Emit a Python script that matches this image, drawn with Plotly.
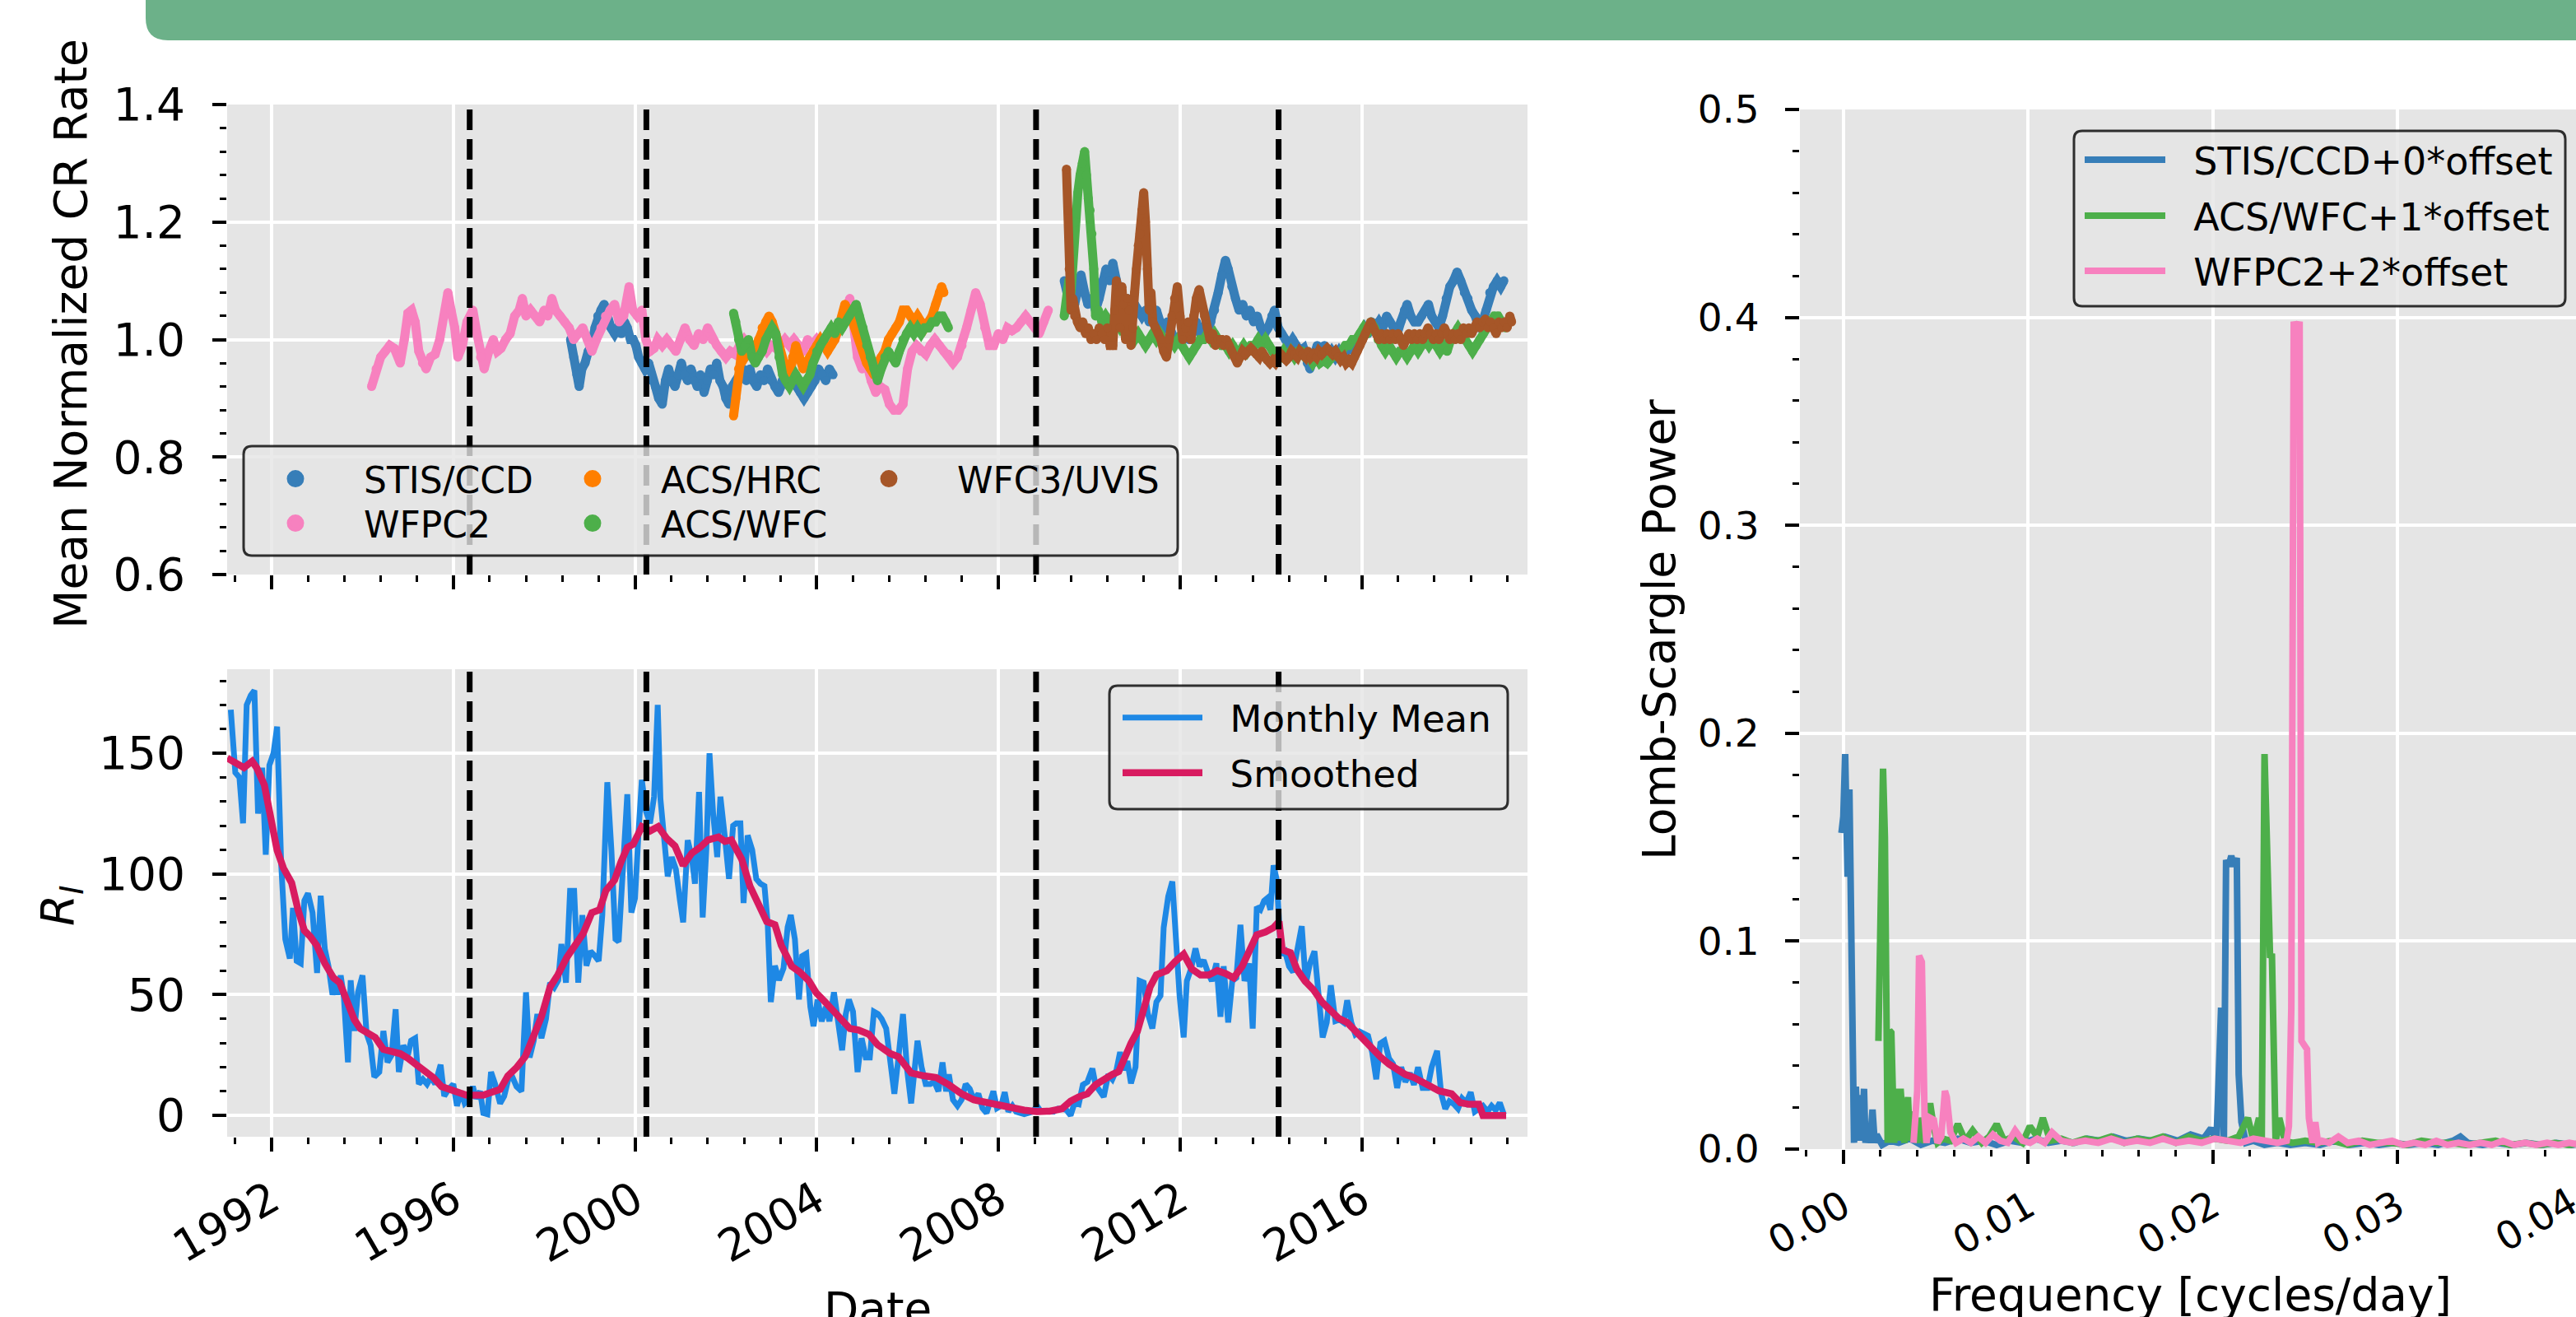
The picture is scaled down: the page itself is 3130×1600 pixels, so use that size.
import plotly.graph_objects as go

W, H = 3130, 1600
def px(x): return x / W
def py(y): return 1 - y / H

# ---------------- Top panel: mean normalized CR rate ----------------
stis_yr_a = [1998.58, 1998.65, 1998.72, 1998.77, 1998.83, 1998.9, 1998.97, 1999.05, 1999.12, 1999.18, 1999.25, 1999.32, 1999.4, 1999.47, 1999.55, 1999.62, 1999.7, 1999.77, 1999.83, 1999.9, 1999.96, 2000.02, 2000.08, 2000.15, 2000.22, 2000.3, 2000.38, 2000.45, 2000.52, 2000.6, 2000.67, 2000.74, 2000.81, 2000.88, 2000.95, 2001.02, 2001.09, 2001.16, 2001.23, 2001.3, 2001.37, 2001.44, 2001.52, 2001.59, 2001.66, 2001.73, 2001.8, 2001.87, 2001.94, 2002.0, 2002.07, 2002.14, 2002.22, 2002.3, 2002.38, 2002.45, 2002.53, 2002.6, 2002.68, 2002.76, 2002.84, 2002.92, 2003.0, 2003.08, 2003.16, 2003.24, 2003.32, 2003.4, 2003.48, 2003.56, 2003.64, 2003.72, 2003.8, 2003.88, 2003.96, 2004.04, 2004.12, 2004.2, 2004.28, 2004.36]
stis_val_a = [1.0, 0.97, 0.94, 0.92, 0.95, 0.96, 0.98, 0.99, 1.02, 1.04, 1.05, 1.06, 1.03, 1.02, 1.01, 1.02, 1.01, 1.03, 1.02, 1.0, 1.0, 0.99, 0.97, 0.96, 0.95, 0.96, 0.93, 0.92, 0.90, 0.89, 0.93, 0.95, 0.93, 0.92, 0.94, 0.96, 0.94, 0.93, 0.95, 0.93, 0.92, 0.94, 0.91, 0.93, 0.95, 0.94, 0.96, 0.93, 0.92, 0.90, 0.89, 0.92, 0.93, 0.94, 0.95, 0.93, 0.95, 0.93, 0.92, 0.94, 0.93, 0.95, 0.93, 0.92, 0.91, 0.93, 0.94, 0.93, 0.94, 0.92, 0.91, 0.90, 0.91, 0.92, 0.93, 0.95, 0.94, 0.93, 0.95, 0.94]
stis_yr_b = [2009.45, 2009.52, 2009.6, 2009.68, 2009.75, 2009.82, 2009.9, 2009.97, 2010.05, 2010.14, 2010.22, 2010.3, 2010.37, 2010.45, 2010.52, 2010.6, 2010.68, 2010.76, 2010.84, 2010.92, 2011.0, 2011.08, 2011.16, 2011.24, 2011.32, 2011.4, 2011.48, 2011.56, 2011.64, 2011.72, 2011.8, 2011.88, 2011.96, 2012.04, 2012.12, 2012.2, 2012.28, 2012.36, 2012.44, 2012.52, 2012.6, 2012.68, 2012.76, 2012.84, 2012.92, 2013.0, 2013.06, 2013.14, 2013.22, 2013.3, 2013.38, 2013.46, 2013.54, 2013.62, 2013.7, 2013.78, 2013.86, 2013.94, 2014.02, 2014.08, 2014.16, 2014.24, 2014.32, 2014.4, 2014.48, 2014.56, 2014.64, 2014.72, 2014.8, 2014.86, 2014.94, 2015.02, 2015.1, 2015.18, 2015.26, 2015.34, 2015.42, 2015.5, 2015.58, 2015.66, 2015.74, 2015.82, 2015.9, 2015.98, 2016.06, 2016.14, 2016.22, 2016.3, 2016.38, 2016.46, 2016.55, 2016.62, 2016.7, 2016.78, 2016.86, 2016.94, 2017.0, 2017.08, 2017.16, 2017.24, 2017.32, 2017.4, 2017.47, 2017.54, 2017.62, 2017.7, 2017.78, 2017.86, 2017.94, 2018.02, 2018.1, 2018.18, 2018.26, 2018.34, 2018.42, 2018.5, 2018.58, 2018.66, 2018.74, 2018.82, 2018.9, 2018.98, 2019.06, 2019.13]
stis_val_b = [1.10, 1.07, 1.05, 1.06, 1.09, 1.11, 1.08, 1.06, 1.07, 1.05, 1.07, 1.10, 1.12, 1.10, 1.13, 1.10, 1.08, 1.05, 1.07, 1.05, 1.06, 1.05, 1.04, 1.05, 1.03, 1.04, 1.05, 1.03, 1.02, 1.03, 1.01, 1.0, 1.0, 1.01, 1.02, 1.0, 1.02, 1.03, 1.01, 1.02, 1.01, 1.03, 1.05, 1.08, 1.11, 1.135, 1.12, 1.09, 1.07, 1.05, 1.06, 1.04, 1.05, 1.03, 1.04, 1.02, 1.01, 1.02, 1.04, 1.05, 1.02, 1.01, 1.0, 0.99, 1.0, 0.99, 0.98, 0.985, 0.96, 0.95, 0.97, 0.99, 0.98, 0.99, 0.97, 0.98, 0.97, 0.98, 0.97, 0.98, 0.99, 0.98, 1.0, 1.01, 1.02, 1.01, 1.03, 1.02, 1.03, 1.02, 1.04, 1.03, 1.02, 1.01, 1.03, 1.05, 1.06, 1.04, 1.03, 1.03, 1.04, 1.05, 1.06, 1.04, 1.03, 1.02, 1.04, 1.07, 1.09, 1.10, 1.115, 1.10, 1.08, 1.07, 1.05, 1.04, 1.02, 1.03, 1.05, 1.08, 1.09, 1.10, 1.09, 1.10]

wfpc2_yr = [1994.2, 1994.3, 1994.4, 1994.5, 1994.6, 1994.7, 1994.83, 1994.92, 1995.0, 1995.08, 1995.16, 1995.24, 1995.32, 1995.4, 1995.5, 1995.6, 1995.7, 1995.8, 1995.88, 1995.95, 1996.03, 1996.1, 1996.2, 1996.3, 1996.43, 1996.52, 1996.6, 1996.68, 1996.78, 1996.88, 1996.97, 1997.05, 1997.15, 1997.25, 1997.35, 1997.45, 1997.52, 1997.6, 1997.7, 1997.8, 1997.9, 1998.0, 1998.08, 1998.17, 1998.25, 1998.35, 1998.45, 1998.55, 1998.65, 1998.75, 1998.85, 1998.95, 1999.05, 1999.15, 1999.25, 1999.35, 1999.45, 1999.55, 1999.65, 1999.75, 1999.87, 1999.95, 2000.05, 2000.15, 2000.24, 2000.33, 2000.42, 2000.5, 2000.6, 2000.7, 2000.8, 2000.9, 2001.0, 2001.1, 2001.2, 2001.3, 2001.4, 2001.5, 2001.6, 2001.7, 2001.8, 2001.9, 2002.0, 2002.1, 2002.2, 2002.3, 2002.4, 2002.5, 2002.6, 2002.7, 2002.8, 2002.9, 2003.0, 2003.1, 2003.2, 2003.3, 2003.4, 2003.5, 2003.6, 2003.7, 2003.8, 2003.9, 2004.0, 2004.1, 2004.2, 2004.3, 2004.4, 2004.5, 2004.6, 2004.73, 2004.82, 2004.9, 2005.0, 2005.1, 2005.2, 2005.3, 2005.4, 2005.5, 2005.6, 2005.7, 2005.8, 2005.9, 2006.0, 2006.1, 2006.2, 2006.3, 2006.4, 2006.5, 2006.6, 2006.7, 2006.8, 2006.9, 2007.0, 2007.1, 2007.2, 2007.3, 2007.4, 2007.5, 2007.6, 2007.7, 2007.8, 2007.9, 2008.0, 2008.1, 2008.2, 2008.3, 2008.4, 2008.5, 2008.6, 2008.7, 2008.8, 2008.9, 2009.0, 2009.1]
wfpc2_val = [0.92, 0.95, 0.97, 0.98, 0.99, 0.985, 0.96, 1.0, 1.045, 1.05, 1.03, 0.98, 0.96, 0.95, 0.97, 0.975, 1.0, 1.04, 1.08, 1.05, 1.02, 0.97, 0.99, 1.03, 1.05, 1.01, 0.97, 0.95, 0.98, 1.0, 0.98, 0.985, 1.0, 1.01, 1.04, 1.05, 1.07, 1.04, 1.05, 1.04, 1.03, 1.05, 1.04, 1.07, 1.05, 1.04, 1.03, 1.02, 1.0, 1.01, 1.02, 1.0, 0.98, 1.0, 1.02, 1.04, 1.05, 1.06, 1.03, 1.04, 1.09, 1.05, 1.04, 1.05, 1.0, 0.98, 0.985, 1.0, 0.99, 1.0, 0.99, 0.98, 1.0, 1.02, 1.0, 0.99, 1.01, 1.0, 1.02, 1.0, 0.99, 0.98, 0.97, 0.98, 0.975, 0.99, 1.0, 0.99, 0.98, 0.97, 0.99, 0.98, 0.99, 0.985, 0.99, 1.0, 0.99, 1.0, 0.99, 0.98, 1.0, 0.99, 1.0, 0.99, 1.0, 1.01, 1.0, 1.02, 1.04, 1.07, 1.02, 0.97, 0.95, 0.96, 0.93, 0.91, 0.92, 0.915, 0.89, 0.88, 0.88, 0.89, 0.95, 0.98, 0.99, 0.98, 0.975, 0.99, 1.0, 0.99, 0.98, 0.975, 0.96, 0.97, 0.99, 1.02, 1.05, 1.08, 1.06, 1.02, 0.99, 0.99, 1.01, 1.0, 1.02, 1.015, 1.02, 1.03, 1.04, 1.03, 1.02, 1.01, 1.03, 1.05]

hrc_yr = [2002.17, 2002.22, 2002.28, 2002.35, 2002.42, 2002.5, 2002.58, 2002.65, 2002.72, 2002.8, 2002.88, 2002.95, 2003.02, 2003.1, 2003.17, 2003.25, 2003.32, 2003.4, 2003.47, 2003.54, 2003.62, 2003.7, 2003.77, 2003.85, 2003.92, 2004.0, 2004.08, 2004.16, 2004.24, 2004.32, 2004.4, 2004.48, 2004.56, 2004.62, 2004.7, 2004.78, 2004.86, 2004.94, 2005.02, 2005.1, 2005.18, 2005.26, 2005.34, 2005.42, 2005.5, 2005.58, 2005.66, 2005.74, 2005.82, 2005.9, 2005.98, 2006.06, 2006.14, 2006.22, 2006.3, 2006.38, 2006.46, 2006.54, 2006.62, 2006.7, 2006.75, 2006.8]
hrc_val = [0.87, 0.90, 0.95, 0.98, 0.97, 0.98, 0.99, 0.985, 1.0, 1.02, 1.03, 1.04, 1.03, 1.01, 0.99, 0.96, 0.95, 0.94, 0.97, 0.99, 0.97, 0.95, 0.96, 0.97, 0.98, 0.99, 1.0, 0.99, 0.98, 0.99, 1.0, 1.02, 1.04, 1.06, 1.05, 1.03, 1.02, 1.0, 0.98, 0.96, 0.95, 0.94, 0.96, 0.97, 0.98, 1.0, 1.01, 1.02, 1.03, 1.05, 1.05, 1.04, 1.03, 1.04, 1.03, 1.02, 1.03, 1.04, 1.06, 1.08, 1.09, 1.08]

wfc_yr_a = [2002.17, 2002.22, 2002.28, 2002.35, 2002.42, 2002.5, 2002.58, 2002.65, 2002.72, 2002.8, 2002.88, 2002.95, 2003.02, 2003.1, 2003.17, 2003.25, 2003.32, 2003.4, 2003.47, 2003.54, 2003.62, 2003.7, 2003.77, 2003.85, 2003.92, 2004.0, 2004.08, 2004.16, 2004.24, 2004.32, 2004.4, 2004.48, 2004.56, 2004.64, 2004.72, 2004.8, 2004.87, 2004.94, 2005.02, 2005.1, 2005.18, 2005.26, 2005.34, 2005.42, 2005.5, 2005.58, 2005.66, 2005.74, 2005.82, 2005.9, 2005.98, 2006.06, 2006.14, 2006.22, 2006.3, 2006.38, 2006.46, 2006.54, 2006.62, 2006.7, 2006.77, 2006.84, 2006.9]
wfc_val_a = [1.045, 1.03, 1.0, 0.98, 0.99, 1.0, 0.97, 0.96, 0.97, 0.98, 1.0, 1.01, 1.02, 1.01, 0.97, 0.94, 0.93, 0.92, 0.93, 0.94, 0.93, 0.92, 0.93, 0.94, 0.96, 0.98, 0.99, 1.0, 1.01, 1.02, 1.01, 1.03, 1.02, 1.03, 1.04, 1.05, 1.06, 1.04, 1.02, 0.99, 0.97, 0.95, 0.93, 0.95, 0.97, 0.98, 0.97, 0.96, 0.98, 1.0, 1.01, 1.02, 1.01, 1.02, 1.01, 1.02, 1.02, 1.03, 1.03, 1.04, 1.04, 1.03, 1.02]
wfc_yr_b = [2009.45, 2009.5, 2009.55, 2009.6, 2009.65, 2009.7, 2009.75, 2009.8, 2009.85, 2009.9, 2009.94, 2009.98, 2010.02, 2010.06, 2010.1, 2010.14, 2010.2, 2010.28, 2010.36, 2010.44, 2010.52, 2010.6, 2010.68, 2010.76, 2010.84, 2010.92, 2011.0, 2011.08, 2011.16, 2011.24, 2011.32, 2011.4, 2011.48, 2011.56, 2011.64, 2011.72, 2011.8, 2011.88, 2011.96, 2012.04, 2012.12, 2012.2, 2012.28, 2012.36, 2012.44, 2012.52, 2012.6, 2012.68, 2012.76, 2012.84, 2012.92, 2013.0, 2013.08, 2013.16, 2013.24, 2013.32, 2013.4, 2013.48, 2013.56, 2013.64, 2013.72, 2013.8, 2013.88, 2013.96, 2014.04, 2014.12, 2014.2, 2014.28, 2014.36, 2014.44, 2014.52, 2014.6, 2014.68, 2014.76, 2014.84, 2014.92, 2015.0, 2015.08, 2015.16, 2015.24, 2015.32, 2015.4, 2015.48, 2015.56, 2015.64, 2015.72, 2015.8, 2015.88, 2015.96, 2016.04, 2016.12, 2016.2, 2016.28, 2016.36, 2016.44, 2016.52, 2016.6, 2016.68, 2016.76, 2016.84, 2016.92, 2017.0, 2017.08, 2017.16, 2017.24, 2017.32, 2017.4, 2017.48, 2017.56, 2017.64, 2017.72, 2017.8, 2017.88, 2017.96, 2018.04, 2018.12, 2018.2, 2018.28, 2018.36, 2018.44, 2018.52, 2018.6, 2018.68, 2018.76, 2018.84, 2018.92, 2019.0, 2019.08, 2019.16]
wfc_val_b = [1.04, 1.06, 1.10, 1.08, 1.15, 1.20, 1.25, 1.28, 1.30, 1.32, 1.28, 1.24, 1.22, 1.18, 1.12, 1.04, 1.05, 1.03, 1.04, 1.03, 1.02, 1.03, 1.02, 1.03, 1.02, 1.01, 1.0, 1.01, 1.0, 0.99, 1.0, 1.01, 1.0, 1.01, 1.0, 0.99, 1.0, 0.99, 1.0, 0.99, 0.98, 0.97, 0.98, 0.99, 1.0, 1.0, 1.01, 1.0, 1.01, 1.0, 0.99, 0.99, 0.98, 0.99, 0.98, 0.98, 0.99, 0.98, 0.99, 0.99, 1.0, 0.99, 1.0, 0.99, 0.98, 0.98, 0.97, 0.98, 0.97, 0.98, 0.97, 0.98, 0.98, 0.97, 0.97, 0.96, 0.97, 0.96, 0.965, 0.96, 0.97, 0.975, 0.97, 0.98, 0.99, 0.99, 1.0, 1.0, 1.01, 1.02, 1.01, 1.03, 1.02, 1.0, 0.99, 0.98, 0.99, 0.98, 0.97, 0.98, 0.98, 0.97, 0.98, 0.99, 0.98, 0.99, 1.0, 0.99, 1.0, 0.99, 0.98, 0.99, 0.98, 1.0, 1.01, 1.02, 1.01, 1.0, 0.99, 0.98, 0.99, 1.0, 1.01, 1.02, 1.03, 1.04, 1.04, 1.03, 1.02]

uvis_yr = [2009.5, 2009.53, 2009.56, 2009.6, 2009.64, 2009.68, 2009.74, 2009.8, 2009.86, 2009.92, 2009.98, 2010.04, 2010.1, 2010.16, 2010.22, 2010.28, 2010.34, 2010.4, 2010.46, 2010.52, 2010.56, 2010.6, 2010.64, 2010.68, 2010.72, 2010.76, 2010.8, 2010.84, 2010.88, 2010.92, 2010.96, 2011.0, 2011.04, 2011.08, 2011.12, 2011.16, 2011.2, 2011.24, 2011.28, 2011.32, 2011.36, 2011.4, 2011.46, 2011.52, 2011.58, 2011.64, 2011.7, 2011.76, 2011.82, 2011.88, 2011.94, 2012.0, 2012.06, 2012.12, 2012.18, 2012.24, 2012.3, 2012.36, 2012.42, 2012.48, 2012.54, 2012.6, 2012.66, 2012.72, 2012.78, 2012.84, 2012.9, 2012.96, 2013.02, 2013.08, 2013.14, 2013.2, 2013.26, 2013.32, 2013.38, 2013.44, 2013.5, 2013.56, 2013.62, 2013.68, 2013.74, 2013.8, 2013.86, 2013.92, 2013.98, 2014.04, 2014.1, 2014.16, 2014.22, 2014.28, 2014.34, 2014.4, 2014.46, 2014.52, 2014.58, 2014.64, 2014.7, 2014.76, 2014.82, 2014.88, 2014.94, 2015.0, 2015.06, 2015.12, 2015.18, 2015.24, 2015.3, 2015.36, 2015.42, 2015.48, 2015.54, 2015.6, 2015.66, 2015.72, 2015.78, 2015.84, 2015.9, 2015.96, 2016.02, 2016.08, 2016.14, 2016.2, 2016.26, 2016.32, 2016.38, 2016.44, 2016.5, 2016.56, 2016.62, 2016.68, 2016.74, 2016.8, 2016.86, 2016.92, 2016.98, 2017.04, 2017.1, 2017.16, 2017.22, 2017.28, 2017.34, 2017.4, 2017.46, 2017.52, 2017.58, 2017.64, 2017.7, 2017.76, 2017.82, 2017.88, 2017.94, 2018.0, 2018.06, 2018.12, 2018.18, 2018.24, 2018.3, 2018.36, 2018.42, 2018.48, 2018.54, 2018.6, 2018.66, 2018.72, 2018.78, 2018.84, 2018.9, 2018.96, 2019.02, 2019.08, 2019.14, 2019.2, 2019.26, 2019.3]
uvis_val = [1.29, 1.22, 1.12, 1.05, 1.07, 1.04, 1.03, 1.02, 1.03, 1.01, 1.02, 1.0, 1.01, 1.0, 1.02, 1.01, 1.0, 1.02, 0.99, 0.99, 1.05, 1.10, 1.08, 1.02, 1.09, 1.06, 1.0, 1.07, 1.05, 0.99, 1.02, 1.08, 1.12, 1.16, 1.18, 1.22, 1.25, 1.20, 1.12, 1.05, 1.08, 1.03, 1.02, 1.01, 1.0, 0.98, 0.97, 1.0, 1.04, 1.07, 1.09, 1.04, 1.0, 1.02, 1.03, 1.0, 1.04, 1.07, 1.085, 1.06, 1.04, 1.02, 1.0, 1.01, 0.99, 1.0, 1.0, 0.99, 1.0, 0.99, 0.98, 0.97, 0.96, 0.97, 0.98, 0.975, 0.98, 0.985, 0.98, 0.975, 0.97, 0.98, 0.97, 0.965, 0.96, 0.965, 0.96, 0.97, 0.975, 0.97, 0.965, 0.97, 0.98, 0.975, 0.97, 0.98, 0.975, 0.97, 0.98, 0.97, 0.975, 0.97, 0.98, 0.975, 0.98, 0.985, 0.98, 0.975, 0.98, 0.97, 0.965, 0.97, 0.96, 0.965, 0.96, 0.97, 0.98, 0.99, 1.0, 1.01, 1.02, 1.03, 1.02, 1.01, 1.0, 1.01, 1.0, 1.01, 1.0, 1.01, 1.0, 1.01, 1.0, 0.99, 1.0, 1.01, 1.0, 1.01, 1.0, 1.01, 1.0, 1.01, 1.02, 1.01, 1.0, 1.01, 1.0, 1.01, 1.02, 1.01, 1.0, 1.01, 1.0, 1.01, 1.0, 1.02, 1.01, 1.02, 1.01, 1.02, 1.03, 1.02, 1.03, 1.035, 1.02, 1.03, 1.02, 1.01, 1.03, 1.02, 1.03, 1.02, 1.04, 1.03]

# ---------------- Bottom panel: sunspot number ----------------
ssn_yr = [1991.1, 1991.2, 1991.29, 1991.37, 1991.45, 1991.54, 1991.62, 1991.7, 1991.79, 1991.87, 1991.95, 1992.04, 1992.12, 1992.21, 1992.3, 1992.4, 1992.47, 1992.55, 1992.64, 1992.72, 1992.8, 1992.9, 1993.0, 1993.08, 1993.17, 1993.25, 1993.34, 1993.4, 1993.45, 1993.52, 1993.59, 1993.68, 1993.74, 1993.82, 1993.9, 1994.0, 1994.09, 1994.18, 1994.26, 1994.37, 1994.46, 1994.55, 1994.64, 1994.73, 1994.8, 1994.9, 1995.0, 1995.07, 1995.16, 1995.24, 1995.33, 1995.42, 1995.51, 1995.6, 1995.72, 1995.8, 1995.9, 1996.0, 1996.08, 1996.17, 1996.25, 1996.34, 1996.43, 1996.5, 1996.59, 1996.66, 1996.75, 1996.83, 1996.92, 1997.03, 1997.12, 1997.21, 1997.3, 1997.39, 1997.5, 1997.6, 1997.68, 1997.77, 1997.85, 1997.94, 1998.04, 1998.13, 1998.22, 1998.31, 1998.38, 1998.48, 1998.57, 1998.66, 1998.75, 1998.84, 1998.93, 1999.02, 1999.12, 1999.2, 1999.28, 1999.39, 1999.48, 1999.57, 1999.64, 1999.74, 1999.83, 1999.92, 2000.0, 2000.08, 2000.15, 2000.24, 2000.33, 2000.42, 2000.5, 2000.56, 2000.66, 2000.72, 2000.81, 2000.9, 2000.99, 2001.06, 2001.16, 2001.25, 2001.32, 2001.41, 2001.49, 2001.57, 2001.64, 2001.72, 2001.81, 2001.88, 2001.98, 2002.07, 2002.16, 2002.23, 2002.32, 2002.39, 2002.48, 2002.58, 2002.67, 2002.76, 2002.85, 2002.92, 2002.99, 2003.08, 2003.17, 2003.27, 2003.36, 2003.43, 2003.52, 2003.61, 2003.68, 2003.77, 2003.86, 2003.93, 2004.02, 2004.11, 2004.2, 2004.28, 2004.38, 2004.47, 2004.56, 2004.64, 2004.71, 2004.8, 2004.9, 2004.99, 2005.08, 2005.17, 2005.26, 2005.35, 2005.43, 2005.53, 2005.62, 2005.71, 2005.8, 2005.9, 2005.99, 2006.08, 2006.15, 2006.22, 2006.31, 2006.4, 2006.5, 2006.59, 2006.68, 2006.77, 2006.85, 2006.91, 2007.0, 2007.1, 2007.19, 2007.28, 2007.37, 2007.46, 2007.56, 2007.65, 2007.74, 2007.82, 2007.89, 2007.97, 2008.06, 2008.14, 2008.22, 2008.31, 2008.39, 2008.48, 2008.57, 2008.66, 2008.76, 2008.85, 2008.94, 2009.03, 2009.13, 2009.22, 2009.31, 2009.4, 2009.5, 2009.59, 2009.68, 2009.77, 2009.86, 2009.96, 2010.07, 2010.14, 2010.23, 2010.32, 2010.42, 2010.51, 2010.6, 2010.68, 2010.77, 2010.84, 2010.92, 2011.02, 2011.11, 2011.2, 2011.29, 2011.39, 2011.48, 2011.57, 2011.64, 2011.74, 2011.83, 2011.91, 2011.99, 2012.08, 2012.15, 2012.24, 2012.34, 2012.43, 2012.52, 2012.61, 2012.7, 2012.8, 2012.89, 2012.96, 2013.06, 2013.15, 2013.24, 2013.33, 2013.42, 2013.52, 2013.6, 2013.69, 2013.77, 2013.85, 2013.92, 2013.99, 2014.06, 2014.13, 2014.22, 2014.31, 2014.4, 2014.49, 2014.59, 2014.68, 2014.77, 2014.86, 2014.96, 2015.05, 2015.14, 2015.23, 2015.32, 2015.42, 2015.51, 2015.6, 2015.68, 2015.77, 2015.86, 2015.95, 2016.04, 2016.14, 2016.23, 2016.32, 2016.41, 2016.5, 2016.6, 2016.69, 2016.78, 2016.87, 2016.96, 2017.06, 2017.15, 2017.24, 2017.34, 2017.45, 2017.54, 2017.66, 2017.75, 2017.84, 2017.93, 2018.03, 2018.12, 2018.21, 2018.3, 2018.4, 2018.49, 2018.58, 2018.67, 2018.77, 2018.86, 2018.95, 2019.04, 2019.13]
ssn_monthly = [168, 142, 140, 121, 170, 174, 176, 125, 144, 108, 145, 150, 161, 104, 73, 65, 86, 64, 63, 89, 92, 84, 59, 91, 69, 62, 50, 56, 50, 58, 49, 22, 56, 35, 51, 58, 34, 29, 16, 18, 35, 22, 25, 44, 18, 29, 25, 31, 32, 13, 15, 13, 16, 13, 21, 8, 11, 13, 4, 10, 5, 6.5, 12, 7, 10, 1, 0.5, 18, 13, 5, 8, 15, 16, 12, 10, 51, 24, 31, 42, 32, 40, 55, 53, 56, 71, 55, 93, 93, 55, 83, 62, 68, 66, 64, 83, 138, 110, 73, 72, 110, 133, 84, 90, 118, 139, 126, 121, 132, 170, 131, 110, 99, 107, 102, 89, 80, 114, 107, 96, 134, 82, 110, 150, 125, 107, 132, 115, 98, 120, 121, 121, 88, 116, 110, 98, 96, 95, 80, 47, 62, 56, 61, 78, 83, 73, 48, 66, 67, 45, 37, 48, 39, 45, 39, 51, 37, 27, 42, 48, 43, 18, 32, 24, 24, 43, 42, 40, 36, 20, 9, 24, 42, 19, 5, 18, 31, 20, 13, 13, 14, 10, 22, 10, 17, 6.5, 4, 6.5, 13, 11, 6.5, 9, 3, 1, 6.5, 10, 3, 4, 9.6, 1.6, 4, 1.6, 1, 0.5, 1, 1.6, 4, 1.6, 1.6, 1.6, 1.6, 2.8, 2.8, 2.2, 0, 5.3, 4.7, 12.7, 13.9, 19.4, 12.7, 10.2, 7.7, 17, 15, 18.8, 26.2, 18.8, 22.5, 13.3, 20, 55.7, 55, 42.2, 36, 47, 49.6, 77.8, 90.7, 96.9, 68, 49.6, 32.3, 55.7, 60.6, 69.2, 61.8, 64.3, 59.4, 55.7, 63, 40.9, 61.8, 38.5, 55.7, 57, 79, 55.7, 63, 36, 86.4, 85.2, 88.9, 90, 85.2, 103.6, 97.5, 66.8, 68, 61.8, 59.4, 69.2, 78.4, 54.5, 63, 68, 48.3, 32.3, 38.5, 53.9, 39.1, 39.7, 38.5, 47.7, 38.5, 33.6, 34.8, 33.6, 33, 26.2, 15, 29.9, 31, 23.7, 21.3, 11.4, 20, 13.9, 17.6, 12.7, 20, 11.4, 11.4, 20, 26.8, 9, 2.8, 5.9, 4.7, 2.8, 7.1, 5.3, 9.6, 1.6, 2.8, 4, 1.6, 4, 2.2, 5.3, 0.4]

smooth_yr = [1991.02, 1991.16, 1991.39, 1991.57, 1991.67, 1991.84, 1991.98, 1992.12, 1992.26, 1992.44, 1992.58, 1992.72, 1992.85, 1992.99, 1993.17, 1993.36, 1993.5, 1993.63, 1993.82, 1993.95, 1994.14, 1994.28, 1994.46, 1994.64, 1994.83, 1995.0, 1995.2, 1995.38, 1995.56, 1995.74, 1995.93, 1996.11, 1996.29, 1996.48, 1996.66, 1996.84, 1997.03, 1997.2, 1997.4, 1997.58, 1997.76, 1997.94, 1998.13, 1998.3, 1998.5, 1998.68, 1998.86, 1999.05, 1999.22, 1999.36, 1999.55, 1999.69, 1999.83, 1999.96, 2000.15, 2000.33, 2000.51, 2000.7, 2000.88, 2001.06, 2001.25, 2001.43, 2001.61, 2001.84, 2001.98, 2002.12, 2002.35, 2002.53, 2002.72, 2002.9, 2003.08, 2003.22, 2003.45, 2003.63, 2003.83, 2003.99, 2004.18, 2004.36, 2004.55, 2004.73, 2004.92, 2005.15, 2005.34, 2005.62, 2005.8, 2006.08, 2006.36, 2006.63, 2006.91, 2007.19, 2007.46, 2007.74, 2008.02, 2008.3, 2008.57, 2008.85, 2009.13, 2009.4, 2009.59, 2009.77, 2009.96, 2010.14, 2010.32, 2010.51, 2010.65, 2010.79, 2010.92, 2011.06, 2011.2, 2011.34, 2011.48, 2011.71, 2011.89, 2012.08, 2012.26, 2012.45, 2012.63, 2012.82, 2013.0, 2013.18, 2013.37, 2013.55, 2013.69, 2013.88, 2014.06, 2014.18, 2014.25, 2014.43, 2014.57, 2014.75, 2014.94, 2015.12, 2015.3, 2015.49, 2015.68, 2015.86, 2016.04, 2016.23, 2016.41, 2016.6, 2016.78, 2016.96, 2017.15, 2017.34, 2017.52, 2017.7, 2017.98, 2018.17, 2018.35, 2018.58, 2018.67, 2018.9, 2019.18]
smooth_val = [148, 146.7, 144, 146.7, 144, 136.8, 124.6, 109.8, 102.4, 96.3, 85.2, 76.6, 74.1, 70.5, 63, 57, 55, 48.3, 39.7, 36, 34.2, 32.3, 27.4, 26.2, 25.6, 23.7, 20.7, 17.6, 15.7, 12, 10.8, 10.2, 8.4, 8.4, 8.4, 9.6, 10.8, 16.4, 20, 24.3, 32.3, 40.9, 53.2, 58.2, 65.5, 70.5, 75.4, 84, 85.2, 93.2, 97.5, 104.9, 111, 112.3, 119.6, 117.8, 119.6, 114.7, 111.6, 103.6, 108.6, 111, 114.1, 115.3, 113.5, 114.1, 106.1, 95, 87.7, 80.3, 79, 70.5, 61.8, 59.4, 55.7, 50.8, 47.1, 43.4, 39.7, 36, 35.4, 33.6, 29.3, 25.6, 24.3, 17.6, 16.4, 15.7, 12.7, 9, 6.5, 5.3, 4, 3.4, 2.2, 1.6, 1.8, 2.8, 5.9, 7.7, 9, 12.7, 15, 17, 18.2, 25, 29.9, 34.8, 43.4, 53.2, 58.2, 60, 63.7, 66.8, 60.6, 58.2, 58.2, 60, 58.8, 57, 61.8, 69.2, 74.8, 76, 77.8, 80.3, 68.6, 67.4, 60.6, 55.7, 52, 47.1, 43.4, 40.3, 38.5, 34.8, 31.1, 28, 24.3, 21.3, 18.8, 17, 15.7, 13.9, 12, 10.2, 9, 5.3, 4.7, 4.7, 0, 0, 0]

cycle_dates = [1996.36, 2000.25, 2008.83, 2014.17]

# ---------------- Right panel: Lomb-Scargle periodograms ----------------
ls_stis_f = [-0.0001, 0.0, 0.0001, 0.00023, 0.00033, 0.00045, 0.00058, 0.00068, 0.0008, 0.0009, 0.00102, 0.00112, 0.0012, 0.00132, 0.00145, 0.00158, 0.0017, 0.0018, 0.0021, 0.0025, 0.003, 0.0036, 0.0042, 0.0048, 0.0055, 0.0062, 0.0069, 0.0076, 0.0083, 0.009, 0.0097, 0.0104, 0.0111, 0.0118, 0.0125, 0.0132, 0.0139, 0.0146, 0.0153, 0.016, 0.0167, 0.0174, 0.0181, 0.0188, 0.0195, 0.0199, 0.0202, 0.02045, 0.0206, 0.02072, 0.02085, 0.021, 0.02115, 0.0213, 0.0214, 0.02155, 0.0218, 0.0222, 0.0228, 0.0235, 0.0242, 0.025, 0.0258, 0.0266, 0.0274, 0.0282, 0.029, 0.0298, 0.0306, 0.0314, 0.0322, 0.033, 0.0334, 0.0338, 0.0346, 0.0354, 0.0362, 0.037, 0.0378, 0.0386, 0.0394, 0.0402]
ls_stis_p = [0.152, 0.160, 0.190, 0.131, 0.173, 0.092, 0.003, 0.030, 0.004, 0.026, 0.004, 0.029, 0.003, 0.011, 0.003, 0.019, 0.003, 0.007, 0.002, 0.004, 0.003, 0.005, 0.002, 0.004, 0.003, 0.005, 0.003, 0.004, 0.002, 0.004, 0.003, 0.005, 0.003, 0.004, 0.003, 0.005, 0.004, 0.006, 0.004, 0.005, 0.004, 0.006, 0.004, 0.007, 0.005, 0.010, 0.004, 0.068, 0.004, 0.139, 0.136, 0.141, 0.136, 0.140, 0.036, 0.013, 0.003, 0.004, 0.002, 0.003, 0.002, 0.003, 0.002, 0.004, 0.002, 0.003, 0.002, 0.003, 0.002, 0.003, 0.002, 0.004, 0.006, 0.003, 0.002, 0.003, 0.002, 0.003, 0.002, 0.003, 0.002, 0.003]
ls_wfc_f = [0.0019, 0.00205, 0.00215, 0.00225, 0.0024, 0.0025, 0.0026, 0.00275, 0.0029, 0.003, 0.0031, 0.0033, 0.0035, 0.0036, 0.0038, 0.004, 0.0041, 0.0044, 0.0047, 0.0049, 0.0051, 0.0054, 0.0058, 0.0062, 0.0066, 0.007, 0.0075, 0.0079, 0.0083, 0.0087, 0.0092, 0.0097, 0.0101, 0.0105, 0.0108, 0.0112, 0.0118, 0.0124, 0.0131, 0.0138, 0.0145, 0.0152, 0.0159, 0.0166, 0.0173, 0.018, 0.0187, 0.0194, 0.0201, 0.0208, 0.0214, 0.0219, 0.0222, 0.0225, 0.02265, 0.0228, 0.02295, 0.0231, 0.0232, 0.0234, 0.0236, 0.0239, 0.0243, 0.025, 0.0257, 0.0265, 0.0273, 0.0281, 0.0289, 0.0297, 0.0305, 0.0313, 0.0321, 0.0329, 0.0337, 0.0345, 0.0353, 0.0361, 0.0369, 0.0377, 0.0385, 0.0393, 0.0401]
ls_wfc_p = [0.052, 0.120, 0.183, 0.150, 0.003, 0.057, 0.056, 0.003, 0.029, 0.004, 0.029, 0.003, 0.025, 0.004, 0.018, 0.003, 0.015, 0.003, 0.022, 0.010, 0.003, 0.005, 0.004, 0.012, 0.004, 0.009, 0.003, 0.006, 0.012, 0.004, 0.006, 0.003, 0.011, 0.006, 0.015, 0.004, 0.005, 0.003, 0.005, 0.004, 0.006, 0.003, 0.005, 0.004, 0.006, 0.003, 0.006, 0.004, 0.005, 0.004, 0.006, 0.015, 0.004, 0.015, 0.005, 0.190, 0.150, 0.092, 0.094, 0.003, 0.015, 0.004, 0.003, 0.004, 0.003, 0.004, 0.002, 0.004, 0.003, 0.003, 0.002, 0.004, 0.003, 0.003, 0.002, 0.003, 0.004, 0.002, 0.003, 0.002, 0.003, 0.002, 0.003]
ls_wfpc2_f = [0.0038, 0.004, 0.0041, 0.00425, 0.0044, 0.0045, 0.0047, 0.0049, 0.0051, 0.0053, 0.0055, 0.0056, 0.0058, 0.0061, 0.0065, 0.0069, 0.0073, 0.0077, 0.0081, 0.0085, 0.0089, 0.0093, 0.0097, 0.0101, 0.0105, 0.0109, 0.0113, 0.0118, 0.0124, 0.0131, 0.0138, 0.0145, 0.0152, 0.0159, 0.0166, 0.0173, 0.018, 0.0187, 0.0194, 0.0201, 0.0208, 0.0215, 0.0222, 0.0229, 0.0235, 0.024, 0.02412, 0.02425, 0.02438, 0.02455, 0.0247, 0.0248, 0.025, 0.0251, 0.0252, 0.0254, 0.02555, 0.0257, 0.0259, 0.0263, 0.0268, 0.0273, 0.0279, 0.0285, 0.0291, 0.0297, 0.0303, 0.0309, 0.0315, 0.0321, 0.0327, 0.0333, 0.0339, 0.0345, 0.0351, 0.0357, 0.0363, 0.0369, 0.0375, 0.0381, 0.0387, 0.0393, 0.0399]
ls_wfpc2_p = [0.003, 0.028, 0.093, 0.090, 0.015, 0.003, 0.015, 0.014, 0.003, 0.006, 0.028, 0.025, 0.008, 0.003, 0.005, 0.003, 0.006, 0.003, 0.007, 0.004, 0.003, 0.009, 0.004, 0.003, 0.005, 0.003, 0.008, 0.004, 0.003, 0.004, 0.003, 0.005, 0.003, 0.004, 0.003, 0.005, 0.003, 0.004, 0.003, 0.005, 0.004, 0.003, 0.005, 0.004, 0.003, 0.004, 0.011, 0.068, 0.398, 0.392, 0.398, 0.052, 0.050, 0.048, 0.015, 0.003, 0.013, 0.003, 0.004, 0.003, 0.006, 0.003, 0.004, 0.002, 0.003, 0.004, 0.002, 0.003, 0.002, 0.004, 0.002, 0.003, 0.002, 0.003, 0.002, 0.004, 0.002, 0.003, 0.002, 0.003, 0.002, 0.003, 0.002]

C_BLUE, C_PINK, C_ORANGE, C_GREEN, C_BROWN = '#377eb8', '#f781bf', '#ff7f00', '#4daf4a', '#a65628'
C_MONTH, C_SMOOTH = '#1e88e5', '#d81b60'
FONT = 'DejaVu Sans'
NB = '\u00a0\u00a0'   # small lead-in gap between legend handle and label

fig = go.Figure()

def cr_trace(x, y, color):
    fig.add_trace(go.Scatter(x=x, y=y, mode='lines+markers', xaxis='x', yaxis='y',
                             line=dict(color=color, width=11), marker=dict(color=color, size=11),
                             showlegend=False, hoverinfo='skip'))

cr_trace(stis_yr_a + [None] + stis_yr_b, stis_val_a + [None] + stis_val_b, C_BLUE)
cr_trace(wfpc2_yr, wfpc2_val, C_PINK)
cr_trace(hrc_yr, hrc_val, C_ORANGE)
cr_trace(wfc_yr_a + [None] + wfc_yr_b, wfc_val_a + [None] + wfc_val_b, C_GREEN)
cr_trace(uvis_yr, uvis_val, C_BROWN)

# legend entries for the top panel (3 columns, matplotlib-like)
top_entries = [('STIS/CCD', C_BLUE, 'legend'), ('WFPC2', C_PINK, 'legend2'),
               ('ACS/HRC', C_ORANGE, 'legend3'), ('ACS/WFC', C_GREEN, 'legend4'),
               ('WFC3/UVIS', C_BROWN, 'legend5')]
for name, c, lg in top_entries:
    fig.add_trace(go.Scatter(x=[None], y=[None], mode='markers', xaxis='x', yaxis='y', name=name,
                             marker=dict(color=c, size=16, line=dict(color=c, width=5)), legend=lg))

fig.add_trace(go.Scatter(x=ssn_yr, y=ssn_monthly, mode='lines', xaxis='x2', yaxis='y2', name=NB + 'Monthly Mean',
                         line=dict(color=C_MONTH, width=7), legend='legend6', hoverinfo='skip'))
fig.add_trace(go.Scatter(x=smooth_yr, y=smooth_val, mode='lines', xaxis='x2', yaxis='y2', name=NB + 'Smoothed',
                         line=dict(color=C_SMOOTH, width=8.5), legend='legend7', hoverinfo='skip'))

fig.add_trace(go.Scatter(x=ls_stis_f, y=ls_stis_p, mode='lines', xaxis='x3', yaxis='y3', name=NB + 'STIS/CCD+0*offset',
                         line=dict(color=C_BLUE, width=8), legend='legend8', hoverinfo='skip'))
fig.add_trace(go.Scatter(x=ls_wfc_f, y=ls_wfc_p, mode='lines', xaxis='x3', yaxis='y3', name=NB + 'ACS/WFC+1*offset',
                         line=dict(color=C_GREEN, width=8), legend='legend9', hoverinfo='skip'))
fig.add_trace(go.Scatter(x=ls_wfpc2_f, y=ls_wfpc2_p, mode='lines', xaxis='x3', yaxis='y3', name=NB + 'WFPC2+2*offset',
                         line=dict(color=C_PINK, width=8), legend='legend10', hoverinfo='skip'))

def axis_common(fs):
    return dict(ticks='outside', ticklen=17, tickwidth=4, tickcolor='black', showline=False, zeroline=False,
                showgrid=True, gridcolor='white', gridwidth=4, automargin=False,
                tickfont=dict(family=FONT, size=fs, color='black'))

def minor(dt, t0):
    return dict(ticks='outside', ticklen=8, tickwidth=3, tickcolor='black', dtick=dt, tick0=t0, showgrid=False)

LX = [px(276), px(1856)]
layout = dict(
    width=W, height=H, margin=dict(l=0, r=0, t=0, b=0, pad=0, autoexpand=False), autosize=False,
    paper_bgcolor='white', plot_bgcolor='#e5e5e5', hovermode=False,
    xaxis=dict(domain=LX, anchor='y', range=[1991.02, 2019.65], tickmode='linear', tick0=1992, dtick=4,
               showticklabels=False, minor=minor(0.8, 1992), **axis_common(54)),
    yaxis=dict(domain=[py(698), py(127)], anchor='x', range=[0.6, 1.4], tickmode='linear', tick0=0.6, dtick=0.2,
               tickformat='.1f', ticklabelstandoff=22, minor=minor(0.04, 0.6), **axis_common(55)),
    xaxis2=dict(domain=LX, anchor='y2', range=[1991.02, 2019.65], tickmode='linear', tick0=1992, dtick=4,
                tickformat='d', tickangle=-30, ticklabelstandoff=6, minor=minor(0.8, 1992), **axis_common(54)),
    yaxis2=dict(domain=[py(1381), py(813)], anchor='x2', range=[-8.8, 184.8], tickmode='linear', tick0=0, dtick=50,
                ticklabelstandoff=22, minor=minor(10, 0), **axis_common(55)),
    xaxis3=dict(domain=[px(2187), 1.0], anchor='y3', range=[-0.00235, 0.03966], tickmode='linear', tick0=0, dtick=0.01,
                tickformat='.2f', tickangle=-30, ticklabelstandoff=6, minor=minor(0.002, 0), **axis_common(47)),
    yaxis3=dict(domain=[py(1396), py(133)], anchor='x3', range=[0, 0.5], tickmode='linear', tick0=0, dtick=0.1,
                tickformat='.1f', ticklabelstandoff=22, minor=minor(0.02, 0), **axis_common(47)),
)

# legends
def leg(xpix, ypix, fs, itemw):
    return dict(x=px(xpix), y=py(ypix), xanchor='left', yanchor='middle', bgcolor='rgba(0,0,0,0)', borderwidth=0,
                font=dict(family=FONT, size=fs, color='black'), itemwidth=itemw, orientation='v',
                itemclick=False, itemdoubleclick=False)

layout['legend'] = leg(359 - 83, 582, 44, 156)
layout['legend2'] = leg(359 - 83, 636, 44, 156)
layout['legend3'] = leg(720 - 83, 582, 44, 156)
layout['legend4'] = leg(720 - 83, 636, 44, 156)
layout['legend5'] = leg(1080 - 83, 582, 44, 156)
layout['legend6'] = leg(1359, 872, 45, 97)
layout['legend7'] = leg(1359, 939, 45, 97)
layout['legend8'] = leg(2528, 194, 46, 98)
layout['legend9'] = leg(2528, 262, 46, 98)
layout['legend10'] = leg(2528, 329, 46, 98)

fig.update_layout(**layout)

def rrect(x0, y0, x1, y1, r):
    X = lambda v: v / W
    Y = lambda v: 1 - v / H
    return (f"M{X(x0 + r)},{Y(y0)} L{X(x1 - r)},{Y(y0)} Q{X(x1)},{Y(y0)} {X(x1)},{Y(y0 + r)} "
            f"L{X(x1)},{Y(y1 - r)} Q{X(x1)},{Y(y1)} {X(x1 - r)},{Y(y1)} L{X(x0 + r)},{Y(y1)} "
            f"Q{X(x0)},{Y(y1)} {X(x0)},{Y(y1 - r)} L{X(x0)},{Y(y0 + r)} Q{X(x0)},{Y(y0)} {X(x0 + r)},{Y(y0)} Z")

shapes = []
# header bar
r = 27
shapes.append(dict(type='path', xref='paper', yref='paper', layer='above',
                   path=(f"M{px(177)},1 L1,1 L1,{py(49)} L{px(177 + r)},{py(49)} "
                         f"Q{px(177)},{py(49)} {px(177)},{py(49 - r)} Z"),
                   fillcolor='#6cb189', line=dict(width=0)))
for d in cycle_dates:
    for xr, yr in (('x', 'y domain'), ('x2', 'y2 domain')):
        shapes.append(dict(type='line', xref=xr, yref=yr, x0=d, x1=d, y0=0, y1=1, layer='above',
                           line=dict(color='black', width=7, dash='25px,11px')))
for box in [(296, 542, 1431, 675), (1348, 833, 1832, 983), (2520, 159, 3117, 372)]:
    shapes.append(dict(type='path', xref='paper', yref='paper', layer='above', path=rrect(*box, 10),
                       fillcolor='rgba(229,229,229,0.8)', line=dict(color='rgba(0,0,0,0.8)', width=3)))
fig.update_layout(shapes=shapes)

ann_font = dict(family=FONT, size=55, color='black')
annotations = [
    dict(text='Mean Normalized CR Rate', x=px(86), y=py(406), xref='paper', yref='paper', showarrow=False,
         textangle=-90, xanchor='center', yanchor='middle', font=ann_font),
    dict(text='<i>R</i><sub><i>I</i></sub>', x=px(74), y=py(1100), xref='paper', yref='paper', showarrow=False,
         textangle=-90, xanchor='center', yanchor='middle', font=ann_font),
    dict(text='Date', x=px(1066), y=py(1556), xref='paper', yref='paper', showarrow=False,
         xanchor='center', yanchor='top', font=ann_font),
    dict(text='Frequency [cycles/day]', x=px(2661), y=py(1539), xref='paper', yref='paper', showarrow=False,
         xanchor='center', yanchor='top', font=ann_font),
    dict(text='Lomb-Scargle Power', x=px(2016), y=py(765), xref='paper', yref='paper', showarrow=False,
         textangle=-90, xanchor='center', yanchor='middle', font=ann_font),
    dict(text='0.04', x=px(3081), y=py(1481), xref='paper', yref='paper', showarrow=False,
         textangle=-30, xanchor='center', yanchor='middle', font=dict(family=FONT, size=47, color='black')),
]
fig.update_layout(annotations=annotations)

fig.write_html('out.html')
